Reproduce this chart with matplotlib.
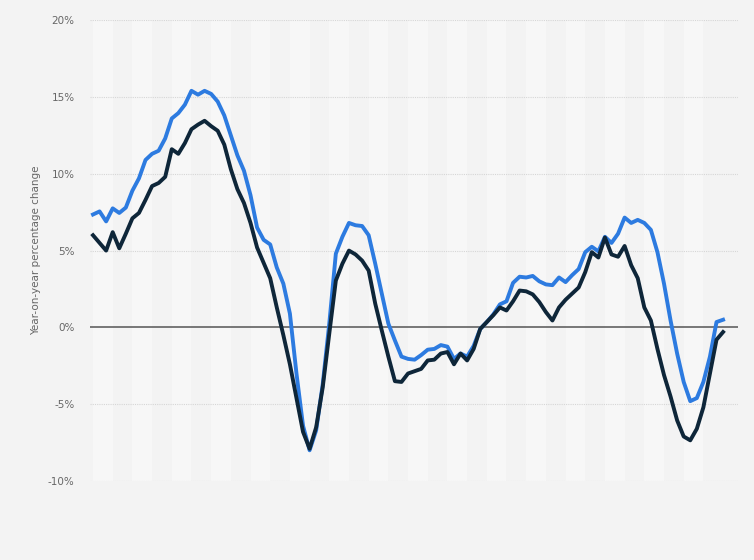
import numpy as np
import matplotlib
matplotlib.use("Agg")
import matplotlib.pyplot as plt

# monthly year-on-year change (%)
serie_clara = [
    7.35, 7.55, 6.9, 7.75, 7.45, 7.8, 8.9, 9.7, 10.9, 11.3,
    11.5, 12.3, 13.6, 13.95, 14.5, 15.4, 15.15, 15.4, 15.2, 14.7,
    13.8, 12.5, 11.2, 10.2, 8.6, 6.5, 5.7, 5.4, 3.9, 2.85,
    0.9, -3.0, -6.4, -8.0, -6.7, -3.7, 0.25, 4.8, 5.9, 6.8,
    6.65, 6.6, 6.0, 4.15, 2.2, 0.25, -0.85, -1.9, -2.05, -2.1,
    -1.8, -1.45, -1.4, -1.15, -1.25, -2.05, -1.7, -1.9, -1.2, -0.1,
    0.35, 0.85, 1.5, 1.7, 2.9, 3.3, 3.25, 3.35, 3.0, 2.8,
    2.75, 3.25, 2.95, 3.4, 3.8, 4.9, 5.25, 4.95, 5.9, 5.5,
    6.1, 7.15, 6.8, 7.0, 6.8, 6.35, 4.9, 2.85, 0.45, -1.7,
    -3.55, -4.8, -4.6, -3.55, -1.9, 0.35, 0.5,
]
serie_oscura = [
    6.0, 5.5, 5.0, 6.2, 5.15, 6.1, 7.1, 7.45, 8.3, 9.2,
    9.4, 9.8, 11.6, 11.3, 12.0, 12.9, 13.2, 13.45, 13.1, 12.8,
    11.9, 10.3, 9.0, 8.1, 6.8, 5.2, 4.2, 3.2, 1.3, -0.5,
    -2.4, -4.6, -6.8, -7.9, -6.5, -3.9, -0.4, 3.05, 4.15, 5.0,
    4.75, 4.35, 3.7, 1.55, -0.2, -1.9, -3.5, -3.55, -3.0, -2.85,
    -2.7, -2.15, -2.1, -1.7, -1.6, -2.4, -1.7, -2.15, -1.4, -0.1,
    0.35, 0.8, 1.3, 1.1, 1.7, 2.4, 2.35, 2.15, 1.65, 1.0,
    0.45, 1.3, 1.8, 2.2, 2.6, 3.6, 4.9, 4.55, 5.85, 4.75,
    4.6, 5.3, 4.05, 3.2, 1.3, 0.45, -1.4, -3.1, -4.5, -6.05,
    -7.1, -7.35, -6.6, -5.2, -3.0, -0.8, -0.3,
]
ticks_y = [-10, -5, 0, 5, 10, 15, 20]

fondo = "#f3f3f3"
x = np.arange(len(serie_clara))

fig = plt.figure(figsize=(7.54, 5.6), dpi=100, facecolor=fondo)
ax = fig.add_axes([0.119, 0.141, 0.860, 0.823])
ax.set_facecolor(fondo)

# bandas alternas (una por trimestre)
for k in range(0, len(x) - 1, 6):
    ax.axvspan(k, k + 3, color="#f7f7f7", lw=0, zorder=0)

for t in ticks_y:
    if t == 0:
        ax.axhline(0, color="#555555", lw=1.1, zorder=2)
    else:
        ax.axhline(t, color="#d6d6d6", lw=0.8, ls=(0, (1, 1)), zorder=1)

ax.plot(x, serie_clara, color="#2d7be0", lw=2.8, solid_joinstyle="round", zorder=3)
ax.plot(x, serie_oscura, color="#0e2639", lw=2.8, solid_joinstyle="round", zorder=4)

ax.set_xlim(-0.5, 98.3)
ax.set_ylim(-10, 20)
ax.set_xticks([])
ax.set_yticks(ticks_y)
ax.set_yticklabels([f"{t}%" for t in ticks_y], color="#666666", fontsize=7.5)
ax.tick_params(axis="y", length=0, pad=11)
for s in ax.spines.values():
    s.set_visible(False)

ax.set_ylabel("Year-on-year percentage change", color="#666666", fontsize=7.5, labelpad=5)

fig.savefig("out.png", dpi=100, facecolor=fondo)
